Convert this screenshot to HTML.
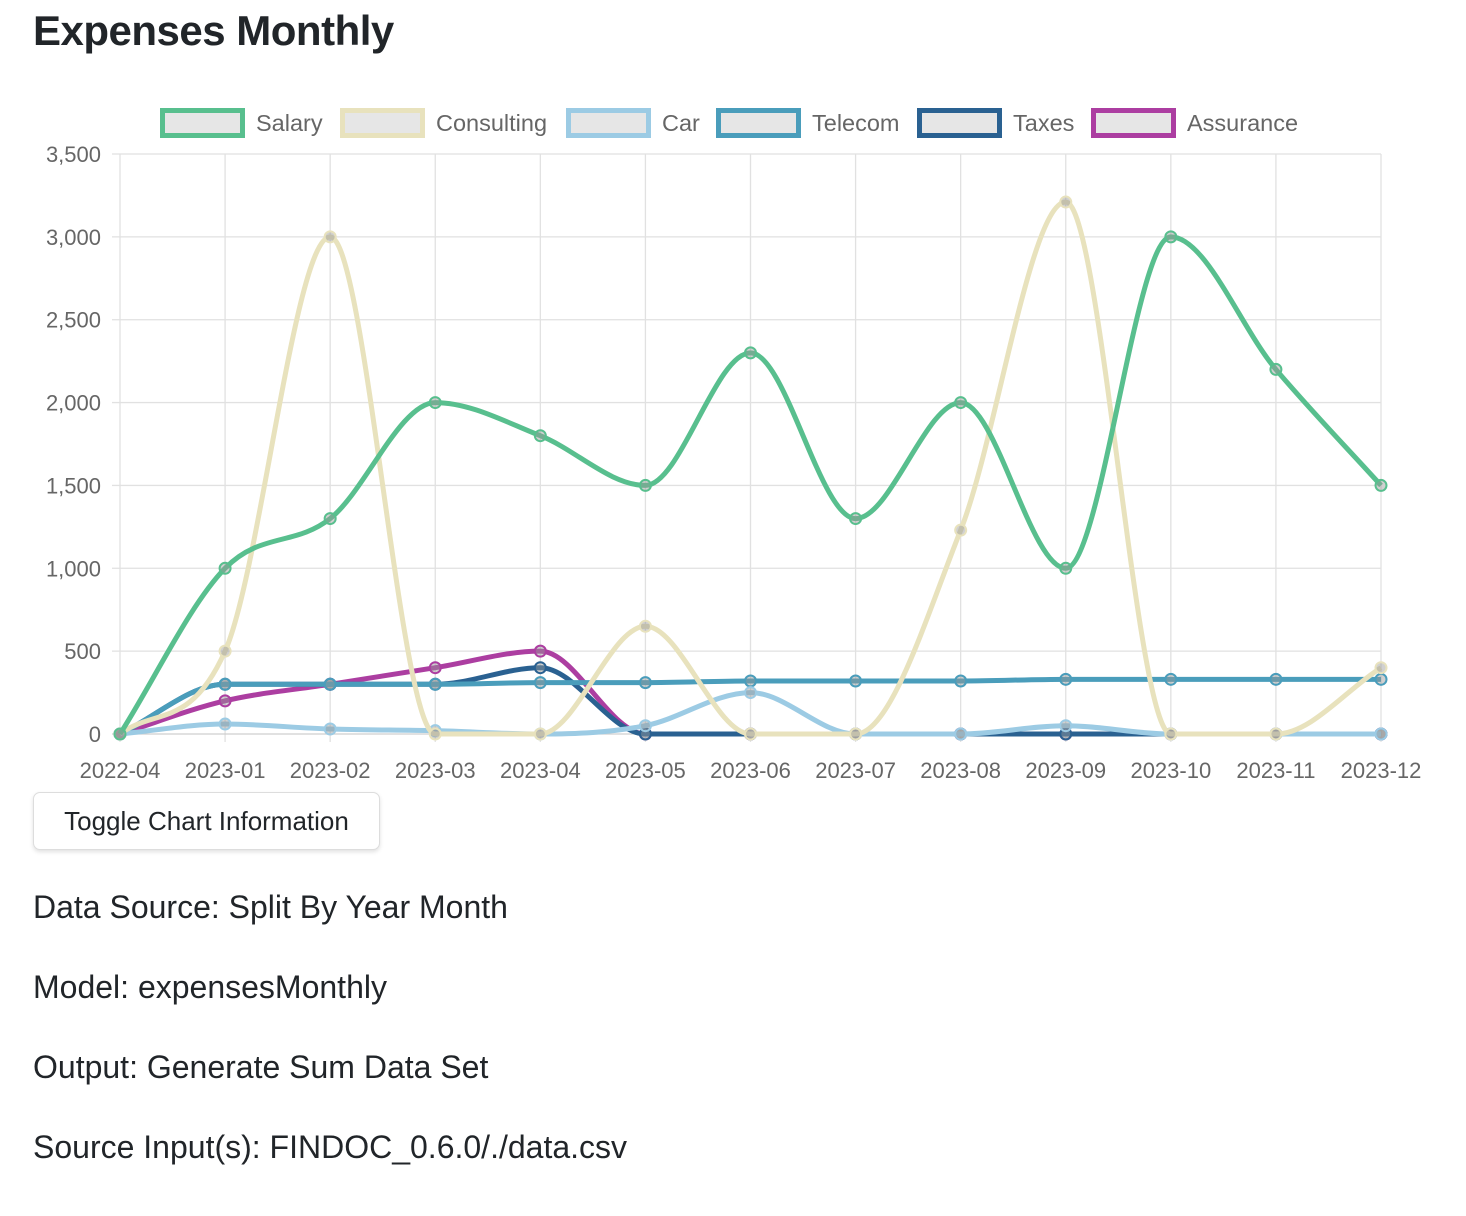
<!DOCTYPE html>
<html><head><meta charset="utf-8"><style>
body{margin:0;background:#fff;font-family:"Liberation Sans",sans-serif;color:#212529;width:1466px;height:1216px;overflow:hidden;position:relative}
h1{position:absolute;left:33px;top:7px;margin:0;font-size:42px;font-weight:bold;letter-spacing:-0.5px}
svg{position:absolute;left:0;top:0}
button{position:absolute;left:33px;top:792px;width:347px;height:58px;background:#fff;border:1px solid #ddd;border-radius:7px;box-shadow:0 2px 4px rgba(0,0,0,.12);font-family:"Liberation Sans",sans-serif;font-size:26px;color:#212529;padding:0}
p{position:absolute;left:33px;margin:0;font-size:32px}
</style></head><body>
<h1>Expenses Monthly</h1>
<svg id="chart" width="1466" height="790"></svg>
<button>Toggle Chart Information</button>
<p style="top:889px">Data Source: Split By Year Month</p>
<p style="top:969px">Model: expensesMonthly</p>
<p style="top:1049px">Output: Generate Sum Data Set</p>
<p style="top:1129px">Source Input(s): FINDOC_0.6.0/./data.csv</p>
<script>
const categories=["2022-04","2023-01","2023-02","2023-03","2023-04","2023-05","2023-06","2023-07","2023-08","2023-09","2023-10","2023-11","2023-12"];
const yTicks=[0,500,1000,1500,2000,2500,3000,3500];
const seriesNames=["Salary","Consulting","Car","Telecom","Taxes","Assurance"];
const seriesColors=["#58bf8e","#e8e2bd","#9ccbe4","#4a9dbb","#2a6191","#ac3ea1"];
const salary=[0,1000,1300,2000,1800,1500,2300,1300,2000,1000,3000,2200,1500];
const consulting=[0,500,3000,0,0,650,0,0,1230,3210,0,0,400];
const car=[0,60,30,20,0,50,250,0,0,50,0,0,0];
const telecom=[0,300,300,300,310,310,320,320,320,330,330,330,330];
const taxes=[0,300,300,300,400,0,0,0,0,0,0,0,0];
const assurance=[0,200,300,400,500,0,0,0,0,0,0,0,0];
const seriesData=[salary,consulting,car,telecom,taxes,assurance];

const NS="http://www.w3.org/2000/svg";
const svg=document.getElementById("chart");
const L=120,R=1381,T=154,B=734,YMAX=3500;
const xs=i=>L+(R-L)*i/(categories.length-1);
const ys=v=>B-(B-T)*v/YMAX;
function mk(tag,attrs,parent){const e=document.createElementNS(NS,tag);for(const k in attrs)e.setAttribute(k,attrs[k]);(parent||svg).appendChild(e);return e;}
categories.forEach((c,i)=>{
  const g=mk("line",{x1:xs(i),x2:xs(i),y1:T,y2:B+8,stroke:"#e1e1e1","stroke-width":1.3});
  
  
  const t=mk("text",{x:xs(i),y:778,"text-anchor":"middle","font-size":22,fill:"#666","font-family":"Liberation Sans, sans-serif"});
  t.textContent=c;
  
  
});
yTicks.forEach(v=>{
  const g=mk("line",{x1:L-8,x2:R,y1:ys(v),y2:ys(v),stroke:v===0?"#cfcfcf":"#e1e1e1","stroke-width":1.3});
  
  
  const t=mk("text",{x:101,y:ys(v)+8,"text-anchor":"end","font-size":22,fill:"#666","font-family":"Liberation Sans, sans-serif"});
  t.textContent=v.toLocaleString("en-US");
  
  
});
const legX=[160,340,566,716,917,1091];
seriesNames.forEach((n,i)=>{
  const r=mk("rect",{x:legX[i]+2.5,y:110.5,width:80,height:25,fill:"#e6e6e6",stroke:seriesColors[i],"stroke-width":5});
  
  
  const t=mk("text",{x:legX[i]+96,y:131,"font-size":23.5,fill:"#666","font-family":"Liberation Sans, sans-serif"});
  t.textContent=n;
  
  
});
function path(pts){
  const n=pts.length,d=[],m=new Array(n).fill(0);
  for(let i=0;i<n-1;i++)d.push((pts[i+1][1]-pts[i][1])/(pts[i+1][0]-pts[i][0]));
  for(let i=0;i<n;i++){
    if(i===0)m[i]=d[0];else if(i===n-1)m[i]=d[n-2];
    else m[i]=(Math.sign(d[i-1])!==Math.sign(d[i])||d[i-1]===0||d[i]===0)?0:(d[i-1]+d[i])/2;
  }
  for(let i=0;i<n-1;i++){
    if(d[i]===0){m[i]=0;m[i+1]=0;continue;}
    const a=m[i]/d[i],b=m[i+1]/d[i],s=a*a+b*b;
    if(s>9){const t=3/Math.sqrt(s);m[i]=t*a*d[i];m[i+1]=t*b*d[i];}
  }
  let p="M"+pts[0][0]+","+pts[0][1];
  for(let i=0;i<n-1;i++){
    const dx=(pts[i+1][0]-pts[i][0])/3;
    p+=` C${pts[i][0]+dx},${pts[i][1]+dx*m[i]} ${pts[i+1][0]-dx},${pts[i+1][1]-dx*m[i+1]} ${pts[i+1][0]},${pts[i+1][1]}`;
  }
  return p;
}
for(let s=seriesData.length-1;s>=0;s--){
  const pts=seriesData[s].map((v,i)=>[xs(i),ys(v)]);
  const g=mk("g",{});
  
  
  const p=mk("path",{d:path(pts),fill:"none",stroke:seriesColors[s],"stroke-width":5,"stroke-linejoin":"round"},g);
  
  
  pts.forEach(pt=>{
    const c=mk("circle",{cx:pt[0],cy:pt[1],r:5.5,fill:"rgba(150,150,150,0.45)",stroke:seriesColors[s],"stroke-width":2},g);
    
    
  });
}
</script>
</body></html>
